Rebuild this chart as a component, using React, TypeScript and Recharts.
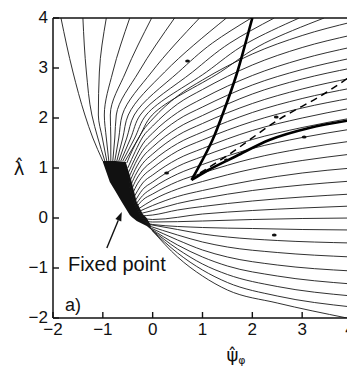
import {
  Area,
  ComposedChart,
  Line,
  ReferenceDot,
  ReferenceLine,
  Scatter,
  XAxis,
  YAxis,
} from 'recharts'

type Pt = [number, number]

const ticks = [-2, -1, 0, 1, 2, 3, 4]

// trajectories leaving the top of the funnel and running out through λ = 4
const topFlows: Pt[][] = [
  [[-1.0, 1.14], [-1.2, 1.6], [-1.36, 2.06], [-1.6, 2.92], [-1.84, 4]],
  [[-0.96, 1.14], [-1.1, 1.6], [-1.22, 2.06], [-1.33, 2.92], [-1.4, 4]],
  [[-0.92, 1.14], [-1.01, 1.6], [-1.09, 2.06], [-1.07, 2.92], [-0.93, 4]],
  [[-0.88, 1.14], [-0.93, 1.6], [-0.97, 2.06], [-0.8, 2.92], [-0.46, 4]],
  [[-0.84, 1.14], [-0.84, 1.6], [-0.85, 2.06], [-0.54, 2.92], [-0.02, 4]],
  [[-0.8, 1.14], [-0.76, 1.6], [-0.73, 2.06], [-0.28, 2.92], [0.44, 4]],
  [[-0.76, 1.14], [-0.68, 1.6], [-0.61, 2.06], [-0.02, 2.92], [0.94, 4]],
  [[-0.72, 1.14], [-0.6, 1.6], [-0.49, 2.06], [0.24, 2.92], [1.48, 4]],
  [[-0.68, 1.14], [-0.52, 1.6], [-0.37, 2.06], [0.52, 2.92], [1.2, 3.5], [1.98, 4]],
  [[-0.64, 1.14], [-0.44, 1.6], [-0.25, 2.06], [0.8, 2.92], [1.55, 3.5], [2.44, 4]],
  [[-0.6, 1.14], [-0.36, 1.6], [-0.13, 2.06], [1.08, 2.92], [1.9, 3.5], [2.94, 4]],
  [[-0.56, 1.13], [-0.28, 1.6], [-0.01, 2.06], [1.36, 2.92], [2.25, 3.5], [3.44, 4]],
]

// trajectories from the funnel's right side, ending on ψ = 4
const sideFlows: Pt[][] = [
  [[-0.52, 1.1], [-0.4, 1.37], [-0.2, 1.74], [0, 1.98], [0.5, 2.44], [1, 2.76], [2, 3.28], [3, 3.65], [4, 3.92]],
  [[-0.5, 1.0], [-0.35, 1.33], [-0.2, 1.62], [0, 1.84], [0.5, 2.28], [1, 2.57], [2, 3.06], [3, 3.41], [4, 3.66]],
  [[-0.49, 0.9], [-0.35, 1.2], [-0.2, 1.48], [0, 1.7], [0.5, 2.11], [1, 2.39], [2, 2.85], [3, 3.18], [4, 3.42]],
  [[-0.48, 0.8], [-0.35, 1.09], [-0.2, 1.35], [0, 1.56], [0.5, 1.96], [1, 2.22], [2, 2.66], [3, 2.97], [4, 3.2]],
  [[-0.47, 0.7], [-0.35, 0.97], [-0.2, 1.22], [0, 1.42], [0.5, 1.8], [1, 2.05], [2, 2.48], [3, 2.78], [4, 3.0]],
  [[-0.46, 0.6], [-0.35, 0.85], [-0.2, 1.09], [0, 1.28], [0.5, 1.65], [1, 1.89], [2, 2.29], [3, 2.58], [4, 2.8]],
  [[-0.45, 0.5], [-0.35, 0.73], [-0.2, 0.96], [0, 1.14], [0.5, 1.49], [1, 1.72], [2, 2.11], [3, 2.39], [4, 2.6]],
  [[-0.43, 0.42], [-0.33, 0.64], [-0.2, 0.83], [0, 1.0], [0.5, 1.34], [1, 1.56], [2, 1.93], [3, 2.2], [4, 2.4]],
  [[-0.41, 0.35], [-0.3, 0.55], [-0.2, 0.7], [0, 0.86], [0.5, 1.18], [1, 1.39], [2, 1.75], [3, 2.0], [4, 2.2]],
  [[-0.38, 0.29], [-0.2, 0.57], [0, 0.72], [0.5, 1.03], [1, 1.23], [2, 1.57], [3, 1.81], [4, 2.0]],
]

// fan out of the fixed point
const pointFlows: Pt[][] = [
  [[-0.36, 0.24], [-0.2, 0.45], [0, 0.6], [0.5, 0.88], [1, 1.07], [2, 1.39], [3, 1.61], [4, 1.78]],
  [[-0.34, 0.2], [-0.2, 0.36], [0, 0.48], [0.5, 0.73], [1, 0.9], [2, 1.19], [3, 1.39], [4, 1.54]],
  [[-0.32, 0.16], [-0.15, 0.27], [0, 0.36], [0.5, 0.58], [1, 0.73], [2, 0.98], [3, 1.15], [4, 1.28]],
  [[-0.3, 0.12], [0, 0.25], [0.5, 0.43], [1, 0.55], [2, 0.75], [3, 0.9], [4, 1.0]],
  [[-0.28, 0.08], [0, 0.15], [0.5, 0.29], [1, 0.39], [2, 0.55], [3, 0.66], [4, 0.74]],
  [[-0.26, 0.04], [0, 0.06], [0.5, 0.16], [1, 0.23], [2, 0.34], [3, 0.42], [4, 0.48]],
  [[-0.24, 0.0], [0, -0.03], [1, 0.08], [2, 0.15], [3, 0.2], [4, 0.24]],
  [[-0.2, -0.05], [0, -0.08], [1, -0.06], [2, -0.03], [3, -0.01], [4, 0.0]],
  [[-0.16, -0.08], [0, -0.13], [1, -0.19], [2, -0.21], [3, -0.23], [4, -0.24]],
]

// lower fan, the last one is the lower edge of the flow
const lowerFlows: Pt[][] = [
  [[-0.12, -0.12], [0.5, -0.23], [1, -0.32], [1.5, -0.38], [2.5, -0.45], [4, -0.5]],
  [[-0.1, -0.15], [0.5, -0.34], [1, -0.48], [1.5, -0.58], [2.5, -0.69], [4, -0.78]],
  [[-0.08, -0.18], [0.5, -0.44], [1, -0.64], [1.5, -0.78], [2.5, -0.94], [4, -1.06]],
  [[-0.06, -0.2], [0.5, -0.54], [1, -0.78], [1.5, -0.96], [2.5, -1.16], [4, -1.32]],
  [[-0.04, -0.22], [0.5, -0.62], [1, -0.92], [1.5, -1.13], [2.5, -1.37], [4, -1.56]],
  [[-0.02, -0.24], [0.5, -0.7], [1, -1.04], [1.5, -1.29], [2.5, -1.56], [4, -1.78]],
  [[0, -0.26], [0.5, -0.78], [1, -1.16], [1.5, -1.44], [2.5, -1.7], [3.9, -2.0]],
]

const steepBranch: Pt[] = [[0.78, 0.76], [1.2, 1.56], [1.45, 2.2], [1.68, 2.86], [1.88, 3.56], [2.0, 4]]
const flatBranch: Pt[] = [[0.78, 0.76], [1.1, 0.95], [1.68, 1.24], [2.34, 1.56], [3.14, 1.8], [4, 1.96]]
const dashedPath: Pt[] = [[0.95, 0.9], [1.5, 1.25], [2.5, 1.95], [3.5, 2.52], [3.95, 2.82]]

// dense region where the trajectories pile up
const funnelX = [-1.0, -0.86, -0.75, -0.62, -0.54, -0.46, -0.42, -0.32, -0.2, -0.12, -0.04]
const funnelLow = [1.12, 0.72, 0.54, 0.32, 0.19, 0.06, 0.02, -0.06, -0.12, -0.16, -0.22]
const funnelHigh = [1.14, 1.14, 1.14, 1.13, 1.12, 0.86, 0.72, 0.32, 0.08, 0.0, -0.14]

const flowMarks: Pt[] = [[0.7, 3.14], [0.28, 0.9], [1.48, 1.16], [3.04, 1.62], [2.44, -0.34], [2.48, 2.02]]

const FONT = '"Liberation Sans", Arial, sans-serif'
const GREEK = '"DejaVu Sans", "Liberation Sans", sans-serif'

const rows = (pts: Pt[]) => pts.map(([x, y]) => ({ x, y }))
const funnelRows = funnelX.map((x, i) => ({ x, band: [funnelLow[i], funnelHigh[i]] }))

const minus = (v: number) => (v < 0 ? `\u2212${-v}` : `${v}`)

const XTick = ({ x, y, payload }: any) => (
  <g>
    <line x1={x} y1={y} x2={x} y2={y - 6} stroke="#111" strokeWidth={1.4} />
    <text x={x} y={y + 17} textAnchor="middle" fontFamily={FONT} fontSize={17} fill="#111">
      {minus(payload.value)}
    </text>
  </g>
)

const YTick = ({ x, y, payload }: any) => (
  <g>
    <line x1={x} y1={y} x2={x + 6} y2={y} stroke="#111" strokeWidth={1.4} />
    <text x={x - 5} y={y + 5} textAnchor="end" fontFamily={FONT} fontSize={17} fill="#111">
      {minus(payload.value)}
    </text>
  </g>
)

const Pointer = ({ x1, y1, x2, y2 }: any) => {
  const a = Math.atan2(y2 - y1, x2 - x1)
  const bx = x2 - 9 * Math.cos(a)
  const by = y2 - 9 * Math.sin(a)
  const nx = -Math.sin(a) * 3.2
  const ny = Math.cos(a) * 3.2
  return (
    <g>
      <line x1={x1} y1={y1} x2={bx} y2={by} stroke="#111" strokeWidth={1.4} />
      <polygon points={`${x2},${y2} ${bx + nx},${by + ny} ${bx - nx},${by - ny}`} fill="#111" />
    </g>
  )
}

const thin = (pts: Pt[], key: string, curve: any) => (
  <Line
    key={key}
    data={rows(pts)}
    dataKey="y"
    type={curve}
    stroke="#1a1a1a"
    strokeWidth={0.9}
    dot={false}
    activeDot={false}
    isAnimationActive={false}
  />
)

export default function App() {
  return (
    <ComposedChart
      width={346}
      height={362}
      data={funnelRows}
      margin={{ top: 10, right: 2, bottom: 12, left: 0 }}
    >
      <XAxis
        dataKey="x"
        type="number"
        domain={[-2, 4]}
        ticks={ticks}
        allowDataOverflow
        height={40}
        axisLine={{ stroke: '#111', strokeWidth: 1.5 }}
        tickLine={false}
        tickSize={0}
        tickMargin={0}
        tick={<XTick />}
        label={{
          content: ({ viewBox }: any) => (
            <text
              x={viewBox.x + viewBox.width * 0.6 - 6}
              y={viewBox.y + 43}
              fontFamily={GREEK}
              fontSize={18}
              fill="#111"
            >
              ψ̂
              <tspan fontSize={11} dy={3}>φ</tspan>
            </text>
          ),
        }}
      />
      <YAxis
        type="number"
        domain={[-2, 4]}
        ticks={ticks}
        allowDataOverflow
        width={45}
        axisLine={{ stroke: '#111', strokeWidth: 1.5 }}
        tickLine={false}
        tickSize={0}
        tickMargin={0}
        tick={<YTick />}
        label={{
          content: ({ viewBox }: any) => (
            <text
              x={viewBox.x + 11}
              y={viewBox.y + 157}
              fontFamily={GREEK}
              fontSize={18}
              textAnchor="middle"
              fill="#111"
            >
              λ̂
            </text>
          ),
        }}
      />
      <ReferenceLine y={4} stroke="#111" strokeWidth={1.5} />
      <ReferenceLine x={4} stroke="#111" strokeWidth={1.5} />

      <Area
        dataKey="band"
        type="linear"
        fill="#111"
        fillOpacity={1}
        stroke="none"
        isAnimationActive={false}
      />

      {topFlows.map((f, i) => thin(f, `top${i}`, 'monotoneY'))}
      {sideFlows.map((f, i) => thin(f, `side${i}`, 'monotoneX'))}
      {pointFlows.map((f, i) => thin(f, `pt${i}`, 'monotoneX'))}
      {lowerFlows.map((f, i) => thin(f, `low${i}`, 'monotoneX'))}

      <Line data={rows(steepBranch)} dataKey="y" type="monotoneY" stroke="#000" strokeWidth={2.6} dot={false} activeDot={false} isAnimationActive={false} />
      <Line data={rows(flatBranch)} dataKey="y" type="monotoneX" stroke="#000" strokeWidth={2.6} dot={false} activeDot={false} isAnimationActive={false} />
      <Line data={rows(dashedPath)} dataKey="y" type="monotoneX" stroke="#000" strokeWidth={1.5} strokeDasharray="7 5" dot={false} activeDot={false} isAnimationActive={false} />

      <Scatter
        data={rows(flowMarks)}
        dataKey="y"
        isAnimationActive={false}
        shape={(p: any) => <ellipse cx={p.cx} cy={p.cy} rx={2.4} ry={1.6} fill="#111" />}
      />

      <ReferenceLine
        segment={[{ x: -0.92, y: -0.6 }, { x: -0.62, y: 0.12 }]}
        shape={<Pointer />}
      />
      <ReferenceDot
        x={-1.7}
        y={-1.05}
        r={0}
        shape={(p: any) => (
          <text x={p.cx} y={p.cy} fontFamily={FONT} fontSize={20} fill="#111">
            Fixed point
          </text>
        )}
      />
      <ReferenceDot
        x={-1.76}
        y={-1.86}
        r={0}
        shape={(p: any) => (
          <text x={p.cx} y={p.cy} fontFamily={FONT} fontSize={18} fill="#111">
            a)
          </text>
        )}
      />
    </ComposedChart>
  )
}
